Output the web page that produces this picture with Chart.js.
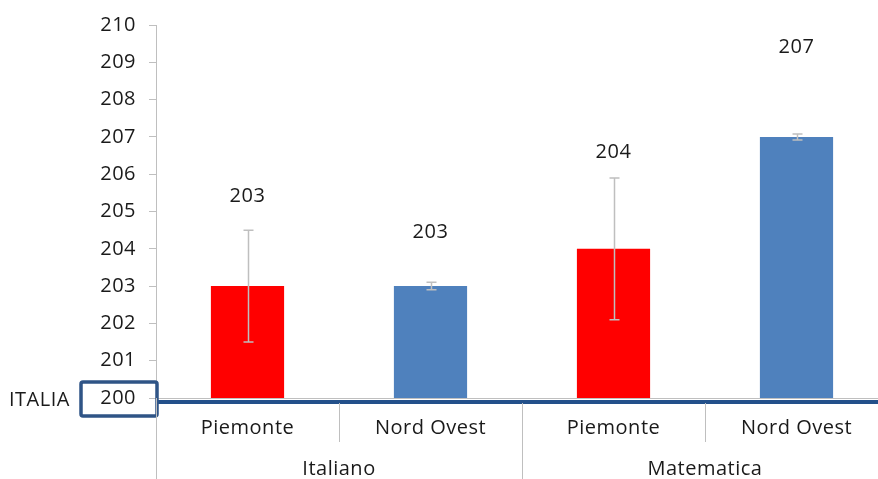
<!DOCTYPE html>
<html>
<head>
    <title>Italia 200</title>
    <style>
        html, body { margin: 0; padding: 0; background: #fff; overflow: hidden; }
        #wrap { width: 888px; height: 479px; }
    </style>
    <script src="https://cdn.jsdelivr.net/npm/chart.js@4"></script>
</head>
<body>
    <div id="wrap">
        <canvas id="chart" width="888" height="479"></canvas>
    </div>
    <script>
        // data
        const categories = ['Piemonte', 'Nord Ovest', 'Piemonte', 'Nord Ovest'];
        const groups = ['Italiano', 'Matematica'];
        const scores = [203, 203, 204, 207];
        const errors = [1.5, 0.1, 1.9, 0.08];
        const labelAt = [205.4, 204.45, 206.6, 209.4];   // where the value labels sit (in score units)
        const barColors = ['#FF0000', '#4F81BD', '#FF0000', '#4F81BD'];
        const yMin = 200, yMax = 210;

        const FAMILY = '"Open Sans", sans-serif';
        const FONT = '20px ' + FAMILY;
        const TEXT = '#1a1a1a';
        const SPACING = '0.5px';

        const extras = {
            id: 'extras',
            beforeDraw(chart) {
                chart.ctx.letterSpacing = SPACING;
            },
            afterDatasetsDraw(chart) {
                const { ctx, chartArea, scales: { x, y } } = chart;
                ctx.save();
                ctx.letterSpacing = SPACING;

                // error bars
                ctx.strokeStyle = '#BFBFBF';
                ctx.lineWidth = 1.5;
                scores.forEach((v, i) => {
                    const px = Math.round(x.getPixelForValue(i)) + 0.5;
                    const top = y.getPixelForValue(v + errors[i]);
                    const bot = y.getPixelForValue(v - errors[i]);
                    ctx.beginPath();
                    ctx.moveTo(px, top); ctx.lineTo(px, bot);
                    ctx.moveTo(px - 5, top); ctx.lineTo(px + 5, top);
                    ctx.moveTo(px - 5, bot); ctx.lineTo(px + 5, bot);
                    ctx.stroke();
                });

                // value labels
                ctx.fillStyle = TEXT;
                ctx.font = FONT;
                ctx.textAlign = 'center';
                ctx.textBaseline = 'middle';
                scores.forEach((v, i) => {
                    ctx.fillText(String(v), x.getPixelForValue(i), y.getPixelForValue(labelAt[i]));
                });

                const base = chartArea.bottom;

                // grey base line and the thick ITALIA line
                ctx.strokeStyle = '#BFBFBF';
                ctx.lineWidth = 1;
                ctx.beginPath();
                ctx.moveTo(chartArea.left, base + 0.5); ctx.lineTo(chartArea.right, base + 0.5);
                ctx.stroke();

                ctx.strokeStyle = '#23508A';
                ctx.lineWidth = 4;
                ctx.beginPath();
                ctx.moveTo(chartArea.left, base + 4); ctx.lineTo(chartArea.right, base + 4);
                ctx.stroke();

                // box round the 200 tick
                ctx.strokeStyle = '#2F5486';
                ctx.lineWidth = 3.5;
                ctx.beginPath();
                ctx.roundRect(81, base - 16, 76, 34, 2);
                ctx.stroke();

                ctx.fillStyle = TEXT;
                ctx.font = FONT;
                ctx.textAlign = 'left';
                ctx.textBaseline = 'middle';
                ctx.fillText('ITALIA', 9, base + 2);

                // category axis lines
                ctx.strokeStyle = '#BFBFBF';
                ctx.lineWidth = 1;
                ctx.beginPath();
                ctx.moveTo(chartArea.left + 0.5, base); ctx.lineTo(chartArea.left + 0.5, 479);
                for (let i = 1; i < categories.length; i++) {
                    const bx = Math.round((x.getPixelForValue(i - 1) + x.getPixelForValue(i)) / 2) + 0.5;
                    const end = (i % 2 === 0) ? 479 : base + 44;
                    ctx.moveTo(bx, base + 5); ctx.lineTo(bx, end);
                }
                ctx.stroke();

                // category and group labels
                ctx.fillStyle = TEXT;
                ctx.font = FONT;
                ctx.textAlign = 'center';
                categories.forEach((c, i) => {
                    ctx.fillText(c, x.getPixelForValue(i), base + 30);
                });
                groups.forEach((g, gi) => {
                    const gx = (x.getPixelForValue(gi * 2) + x.getPixelForValue(gi * 2 + 1)) / 2;
                    ctx.fillText(g, gx, base + 71);
                });

                ctx.restore();
            }
        };

        new Chart(document.getElementById('chart'), {
            type: 'bar',
            data: {
                labels: categories,
                datasets: [{
                    data: scores,
                    backgroundColor: barColors,
                    borderWidth: 0,
                    categoryPercentage: 1,
                    barPercentage: 0.4
                }]
            },
            options: {
                responsive: false,
                animation: false,
                layout: { padding: { top: 24, bottom: 81, left: 0, right: 0 } },
                plugins: { legend: { display: false }, tooltip: { enabled: false } },
                scales: {
                    x: { display: false },
                    y: {
                        min: yMin,
                        max: yMax,
                        afterFit: s => { s.width = 156; },
                        ticks: {
                            stepSize: 1,
                            padding: 13,
                            color: TEXT,
                            font: { family: FAMILY, size: 20 }
                        },
                        grid: { drawOnChartArea: false, drawTicks: true, tickLength: 7, color: '#BFBFBF' },
                        border: { display: true, color: '#BFBFBF', width: 1 }
                    }
                }
            },
            plugins: [extras]
        });
    </script>
</body>
</html>
